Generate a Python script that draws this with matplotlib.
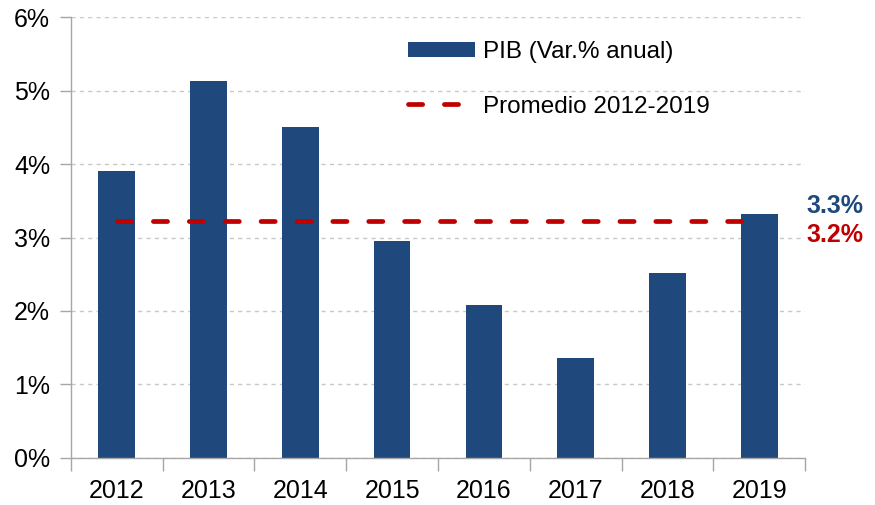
#!/usr/bin/env python3
"""PIB annual growth bars with the 2012-2019 average as a dashed line."""

import numpy as np
import matplotlib
matplotlib.use("Agg")
from matplotlib import pyplot as plt
from matplotlib.ticker import FuncFormatter, MultipleLocator, FixedLocator

years = ["2012", "2013", "2014", "2015", "2016", "2017", "2018", "2019"]
pib_growth = [3.90, 5.13, 4.50, 2.95, 2.08, 1.36, 2.52, 3.32]
pib_label = "PIB (Var.% anual)"
avg_label = "Promedio 2012-2019"

BLUE = "#1F497D"
RED = "#C00000"
GRAY = "#A6A6A6"

plt.rcParams["font.family"] = ["Liberation Sans", "DejaVu Sans"]

avg = float(np.mean(pib_growth))
x = np.arange(len(years))
bar_w = 0.4

fig = plt.figure(figsize=(8.75, 5.05), dpi=100)
ax = fig.add_axes([0.0811, 0.0931, 0.839, 0.8732])

bars = ax.bar(x, pib_growth, width=bar_w, color=BLUE, zorder=2, label=pib_label)
(avg_line,) = ax.plot([x[0], x[-1] - bar_w / 2], [avg, avg], color=RED, lw=3.4,
                      dashes=(3.0, 4.6), dash_capstyle="round", zorder=3, label=avg_label)

ax.set_xlim(-0.5, len(years) - 0.5)
ax.set_ylim(0, 6)
ax.yaxis.set_major_locator(MultipleLocator(1))
ax.yaxis.set_major_formatter(FuncFormatter(lambda v, _: f"{v:.0f}%"))
ax.set_xticks(x)
ax.set_xticklabels(years)
ax.xaxis.set_minor_locator(FixedLocator(np.arange(-0.5, len(years), 1.0)))

ax.tick_params(axis="x", which="major", length=0, pad=15, labelsize=18)
ax.tick_params(axis="x", which="minor", length=9, color=GRAY, width=1)
ax.tick_params(axis="y", length=8, color=GRAY, width=1, pad=7, labelsize=18)

ax.grid(axis="y", color="#C8C8C8", linestyle=(0, (3, 3)), lw=1, zorder=0)
ax.set_axisbelow(True)
for side in ("top", "right"):
    ax.spines[side].set_visible(False)
for side in ("left", "bottom"):
    ax.spines[side].set_color(GRAY)
    ax.spines[side].set_linewidth(1)

ax.legend([bars, avg_line], [pib_label, avg_label], loc="upper left",
          bbox_to_anchor=(0.459, 0.945), frameon=False,
          fontsize=17.5, handlelength=2.75, handleheight=0.6,
          labelspacing=1.33, borderpad=0, borderaxespad=0, handletextpad=0.35)

ax.annotate(f"{pib_growth[-1]:.1f}%", xy=(x[-1], pib_growth[-1]), xytext=(34, 6),
            textcoords="offset points", color=BLUE, fontsize=18, fontweight="bold",
            va="center", ha="left", annotation_clip=False)
ax.annotate(f"{avg:.1f}%", xy=(x[-1], avg), xytext=(34, -10),
            textcoords="offset points", color=RED, fontsize=18, fontweight="bold",
            va="center", ha="left", annotation_clip=False)

fig.savefig("out.png", dpi=100)
